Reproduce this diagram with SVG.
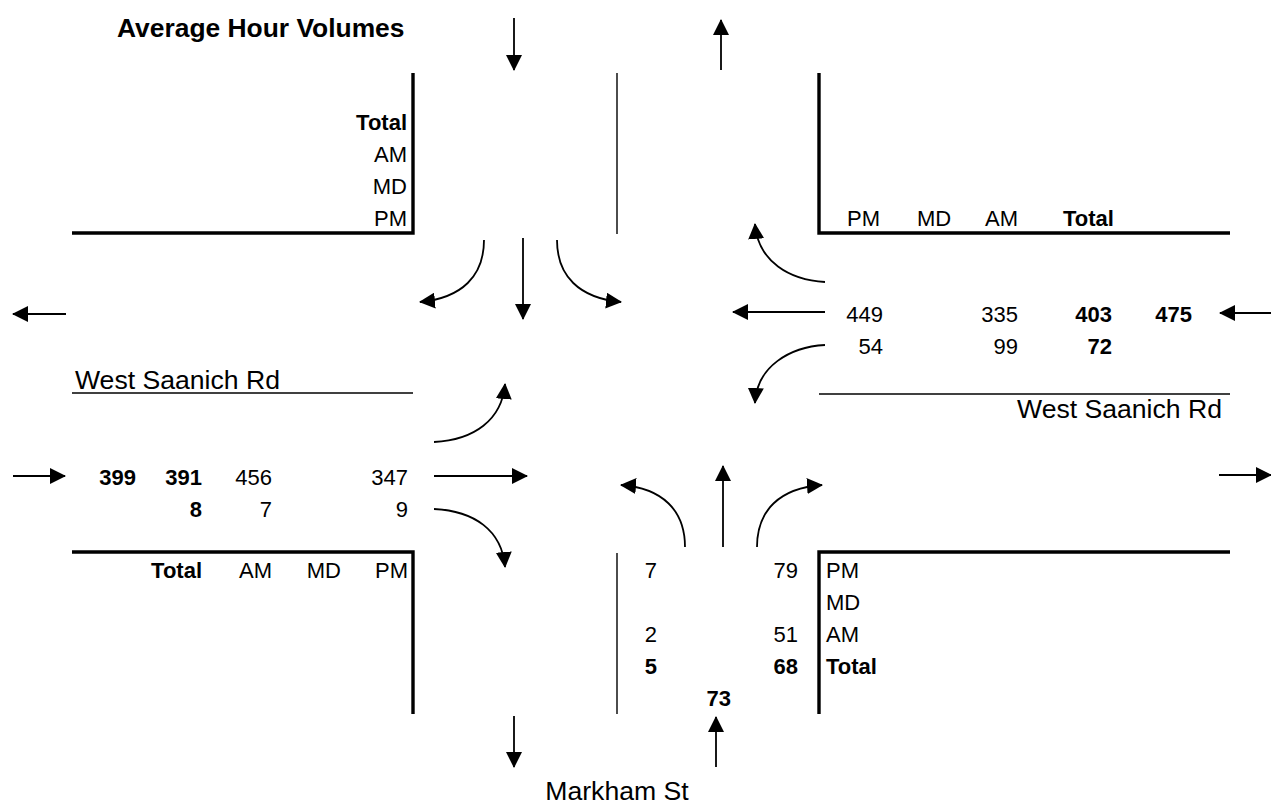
<svg xmlns="http://www.w3.org/2000/svg" width="1271" height="806" viewBox="0 0 1271 806">
<style>
text{font-family:"Liberation Sans",Arial,sans-serif;fill:#000;font-size:22px}
.b{font-weight:bold}
.r{text-anchor:end}
.road{font-size:26.6px}
.title{font-size:26.4px;font-weight:bold}
.thick{stroke:#000;stroke-width:3.4;fill:none}
.thin{stroke:#000;stroke-width:1.4;fill:none}
.arr{stroke:#000;stroke-width:1.8;fill:none;marker-end:url(#ah)}
</style>
<defs>
<marker id="ah" markerUnits="userSpaceOnUse" markerWidth="16" markerHeight="16" refX="15" refY="8" orient="auto" viewBox="0 0 16 16">
<path d="M0,0 L16,8 L0,16 z" fill="#000"/>
</marker>
</defs>
<rect width="1271" height="806" fill="#fff"/>

<g id="title"><text class="title" x="117" y="37">Average Hour Volumes</text></g>

<g id="kerbs">
<path class="thick" d="M413,73 V233 H72"/>
<path class="thick" d="M819,73 V233 H1230"/>
<path class="thick" d="M72,552 H413 V714"/>
<path class="thick" d="M1230,552 H819 V714"/>
<path class="thin" d="M617,73 V234"/>
<path class="thin" d="M617,553 V714"/>
<path class="thin" d="M72,393 H413"/>
<path class="thin" d="M819,394 H1230"/>
</g>

<g id="north-approach">
<text class="r b" x="407" y="130">Total</text>
<text class="r" x="407" y="162">AM</text>
<text class="r" x="407" y="194">MD</text>
<text class="r" x="407" y="226">PM</text>
</g>

<g id="east-approach">
<text x="847" y="226">PM</text>
<text x="917" y="226">MD</text>
<text x="985" y="226">AM</text>
<text class="b" x="1063" y="226">Total</text>
<text class="r" x="883" y="322">449</text>
<text class="r" x="1018" y="322">335</text>
<text class="r b" x="1112" y="322">403</text>
<text class="r b" x="1192" y="322">475</text>
<text class="r" x="883" y="354">54</text>
<text class="r" x="1018" y="354">99</text>
<text class="r b" x="1112" y="354">72</text>
<text class="road r" x="1222" y="418">West Saanich Rd</text>
</g>

<g id="west-approach">
<text class="road" x="75" y="389">West Saanich Rd</text>
<text class="r b" x="136" y="485">399</text>
<text class="r b" x="202" y="485">391</text>
<text class="r" x="272" y="485">456</text>
<text class="r" x="408" y="485">347</text>
<text class="r b" x="202" y="517">8</text>
<text class="r" x="272" y="517">7</text>
<text class="r" x="408" y="517">9</text>
<text class="r b" x="202" y="578">Total</text>
<text class="r" x="272" y="578">AM</text>
<text class="r" x="341" y="578">MD</text>
<text class="r" x="408" y="578">PM</text>
</g>

<g id="south-approach">
<text class="r" x="657" y="578">7</text>
<text class="r" x="798" y="578">79</text>
<text class="r" x="657" y="642">2</text>
<text class="r" x="798" y="642">51</text>
<text class="r b" x="657" y="674">5</text>
<text class="r b" x="798" y="674">68</text>
<text class="r b" x="731" y="706">73</text>
<text x="826" y="578">PM</text>
<text x="826" y="610">MD</text>
<text x="826" y="642">AM</text>
<text class="b" x="826" y="674">Total</text>
<text class="road" x="617" y="800" text-anchor="middle">Markham St</text>
</g>

<g id="connectors">
<path class="arr" d="M514,18 V70"/>
<path class="arr" d="M721,70 V20"/>
<path class="arr" d="M514,716 V767"/>
<path class="arr" d="M716,767 V717"/>
<path class="arr" d="M66,314 H13"/>
<path class="arr" d="M13,476 H65"/>
<path class="arr" d="M1271,313 H1220"/>
<path class="arr" d="M1219,475 H1271"/>
<path class="arr" d="M484,240 C484,276 462,298 420,302"/>
<path class="arr" d="M523,238 V319"/>
<path class="arr" d="M557,240 C557,276 579,298 621,302"/>
<path class="arr" d="M825,282 C790,280 758,262 755,224"/>
<path class="arr" d="M825,312 H733"/>
<path class="arr" d="M825,345 C790,347 757,366 755,403"/>
<path class="arr" d="M434,442 C474,440 502,420 505,384"/>
<path class="arr" d="M434,476 H527"/>
<path class="arr" d="M434,509 C474,511 502,530 505,567"/>
<path class="arr" d="M685,547 C685,510 662,488 621,485"/>
<path class="arr" d="M723,547 V466"/>
<path class="arr" d="M757,547 C757,510 780,488 822,485"/>
</g>
</svg>
